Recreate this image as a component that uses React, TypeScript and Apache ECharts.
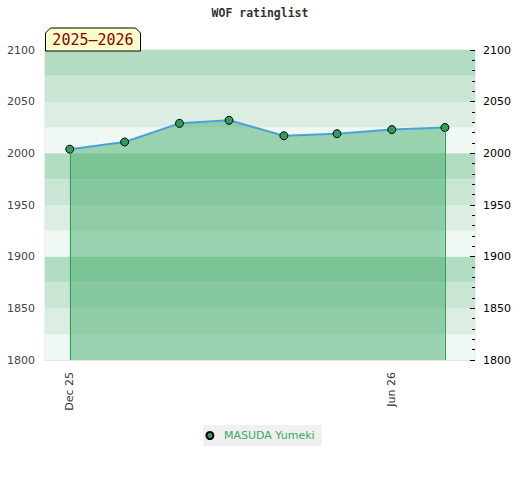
import React, { useEffect, useRef } from "react";
import * as echarts from "echarts";

const TITLE = "WOF ratinglist";
const SEASON_LABEL = "2025\u20132026";
const PLAYER = "MASUDA Yumeki";
const DATES = [
  "2025-12-01",
  "2026-01-01",
  "2026-02-01",
  "2026-03-01",
  "2026-04-01",
  "2026-05-01",
  "2026-06-01",
  "2026-07-01",
];
const RATINGS = [2004, 2011, 2029, 2032, 2017, 2019, 2023, 2025];
const X_RANGE = ["2025-11-17", "2026-07-18"];
const X_LABEL_DATES = ["2025-12-01", "2026-06-01"];
const Y_MIN = 1800;
const Y_MAX = 2100;
const BAND_COLORS = ["#eff8f2", "#dceee3", "#c9e6d4", "#b3ddc3"];
const MONTHS = ["Jan", "Feb", "Mar", "Apr", "May", "Jun", "Jul", "Aug", "Sep", "Oct", "Nov", "Dec"];

const DAY = 86400000;
const ts = (d: string) => new Date(d + "T00:00:00Z").getTime();

export default function App() {
  const ref = useRef<HTMLDivElement>(null);
  useEffect(() => {
    document.body.style.margin = "0";
    if (!ref.current) return;
    const chart = echarts.init(ref.current, null, { renderer: "svg" });
    const data = DATES.map((d, i) => [ts(d), RATINGS[i]]);
    const first = data[0];
    const last = data[data.length - 1];
    const labelSet = new Set(X_LABEL_DATES.map(ts));
    chart.setOption({
      animation: false,
      backgroundColor: "#ffffff",
      title: {
        text: TITLE,
        left: "center",
        top: 2,
        textStyle: {
          fontFamily: "DejaVu Sans Mono",
          fontWeight: "bold",
          fontSize: 11.5,
          color: "#333",
        },
      },
      grid: {
        left: 45,
        right: 45,
        top: 50,
        bottom: 120,
        show: true,
        borderColor: "#dddddd",
        borderWidth: 1,
        backgroundColor: "transparent",
      },
      legend: {
        bottom: 34,
        left: "center",
        backgroundColor: "#f0f0f0",
        padding: [5, 7, 5, 2],
        itemWidth: 18,
        itemHeight: 7,
        itemGap: 5,
        icon: "circle",
        textStyle: {
          color: "#3aaa5f",
          fontFamily: "DejaVu Sans",
          fontSize: 11,
        },
        data: [PLAYER],
      },
      xAxis: {
        type: "value",
        min: ts(X_RANGE[0]),
        max: ts(X_RANGE[1]),
        interval: DAY,
        axisLine: { show: false },
        axisTick: { show: false },
        splitLine: { show: false },
        axisLabel: {
          rotate: 90,
          margin: 12,
          color: "#333",
          fontFamily: "DejaVu Sans",
          fontSize: 11,
          formatter: (v: number) => {
            if (!labelSet.has(v)) return "";
            const d = new Date(v);
            return MONTHS[d.getUTCMonth()] + " " + String(d.getUTCFullYear() % 100).padStart(2, "0");
          },
        },
      },
      yAxis: [
        {
          type: "value",
          position: "left",
          min: Y_MIN,
          max: Y_MAX,
          interval: 50,
          axisLine: { show: false },
          axisTick: { show: false },
          axisLabel: {
            color: "#444",
            fontFamily: "DejaVu Sans",
            fontSize: 11,
            margin: 10,
            formatter: (v: number) => String(v),
          },
          splitLine: { show: true, lineStyle: { color: "#e2e2e2", width: 1 } },
        },
        {
          type: "value",
          position: "right",
          min: Y_MIN,
          max: Y_MAX,
          interval: 50,
          axisLine: { show: false },
          axisTick: { show: true, inside: true, length: 5, lineStyle: { color: "#000" } },
          minorTick: { show: true, splitNumber: 5, length: 3, lineStyle: { color: "#000" } },
          axisLabel: {
            color: "#000",
            fontFamily: "DejaVu Sans",
            fontSize: 11,
            margin: 8,
            formatter: (v: number) => String(v),
          },
          splitLine: { show: false },
        },
        {
          type: "value",
          position: "left",
          min: Y_MIN,
          max: Y_MAX,
          interval: 25,
          axisLine: { show: false },
          axisTick: { show: false },
          axisLabel: { show: false },
          splitLine: { show: false },
          splitArea: { show: true, areaStyle: { color: BAND_COLORS } },
          z: 0,
        },
      ],
      series: [
        {
          name: PLAYER,
          type: "line",
          data,
          symbol: "circle",
          symbolSize: 8,
          showSymbol: true,
          lineStyle: { color: "#4f9fdc", width: 2 },
          itemStyle: { color: "#2e9e5a", borderColor: "#000", borderWidth: 1 },
          areaStyle: { color: "rgba(68,171,105,0.5)", opacity: 1, origin: "start" },
          markLine: {
            silent: true,
            symbol: "none",
            label: { show: false },
            lineStyle: { color: "#2ca25f", width: 1, type: "solid" },
            data: [
              [{ coord: [first[0], first[1]] }, { coord: [first[0], Y_MIN] }],
              [{ coord: [last[0], last[1]] }, { coord: [last[0], Y_MIN] }],
            ],
          },
        },
      ],
      graphic: [
        {
          type: "polygon",
          shape: {
            points: [
              [45.5, 51],
              [45.5, 33],
              [50.5, 28],
              [135.5, 28],
              [140.5, 33],
              [140.5, 51],
            ],
          },
          style: { fill: "#ffffcc", stroke: "#000", lineWidth: 1 },
          z: 100,
        },
        {
          type: "text",
          x: 93,
          y: 40,
          style: {
            text: SEASON_LABEL,
            fill: "#8b0000",
            font: "15px 'DejaVu Sans Mono'",
            textAlign: "center",
            textVerticalAlign: "middle",
          },
          z: 101,
        },
      ],
    });
    return () => chart.dispose();
  }, []);
  return <div ref={ref} style={{ width: 520, height: 480 }} />;
}
